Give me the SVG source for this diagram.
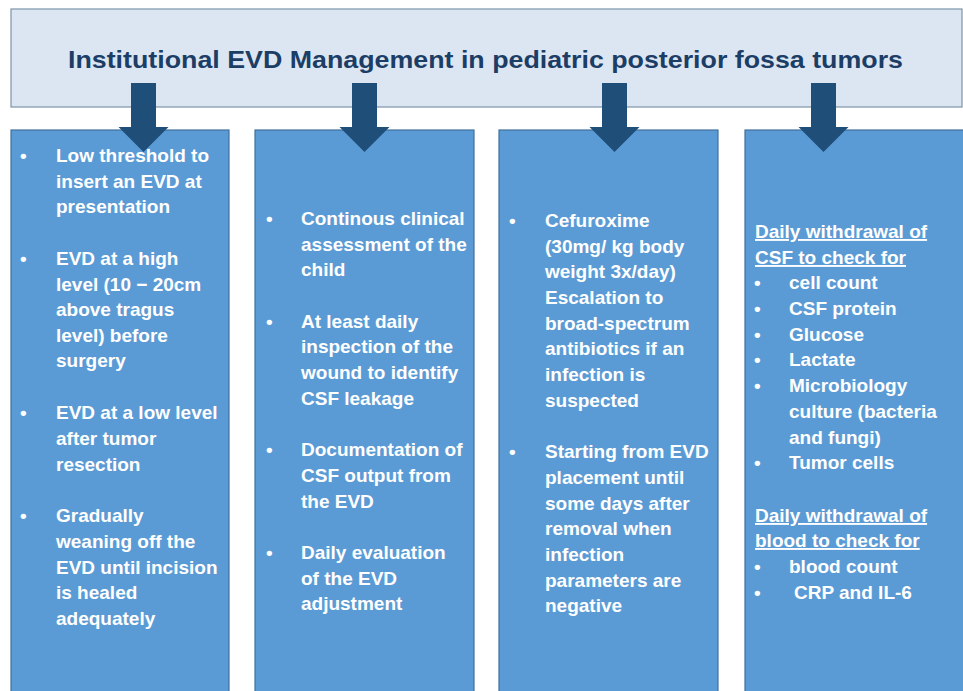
<svg xmlns="http://www.w3.org/2000/svg" width="963" height="691" viewBox="0 0 963 691">
  <style>
    .header { fill: #dce6f2; stroke: #7d93ab; stroke-width: 1.2; }
    .col { fill: #5b9bd5; stroke: #41719c; stroke-width: 1.2; }
    .title { font-family: "Liberation Sans", Arial, sans-serif; font-weight: bold; font-size: 24px; fill: #1b3d66; }
    .t { font-family: "Liberation Sans", Arial, sans-serif; font-weight: bold; font-size: 19px; fill: #ffffff; }
    .u { text-decoration: underline; }
    .arrow { fill: #1f4e79; }
  </style>
  <rect width="963" height="691" fill="#ffffff"/>

  <g id="header">
    <rect class="header" x="11" y="9" width="951" height="98"/>
    <text class="title" x="68" y="68" textLength="835" lengthAdjust="spacingAndGlyphs">Institutional EVD Management in pediatric posterior fossa tumors</text>
  </g>

  <g id="col-drainage">
    <rect class="col" x="11" y="130" width="218" height="570"/>
    <g class="t">
      <text x="20" y="162">•</text>
      <text x="56" y="162">Low threshold to</text>
      <text x="56" y="188">insert an EVD at</text>
      <text x="56" y="213">presentation</text>
      <text x="20" y="265">•</text>
      <text x="56" y="265">EVD at a high</text>
      <text x="56" y="291">level (10 − 20cm</text>
      <text x="56" y="316">above tragus</text>
      <text x="56" y="342">level) before</text>
      <text x="56" y="367">surgery</text>
      <text x="20" y="419">•</text>
      <text x="56" y="419">EVD at a low level</text>
      <text x="56" y="445">after tumor</text>
      <text x="56" y="471">resection</text>
      <text x="20" y="522">•</text>
      <text x="56" y="522">Gradually</text>
      <text x="56" y="548">weaning off the</text>
      <text x="56" y="574">EVD until incision</text>
      <text x="56" y="599">is healed</text>
      <text x="56" y="625">adequately</text>
    </g>
  </g>

  <g id="col-monitoring">
    <rect class="col" x="255" y="130" width="219" height="570"/>
    <g class="t">
      <text x="266" y="225">•</text>
      <text x="301" y="225">Continous clinical</text>
      <text x="301" y="251">assessment of the</text>
      <text x="301" y="276">child</text>
      <text x="266" y="328">•</text>
      <text x="301" y="328">At least daily</text>
      <text x="301" y="353">inspection of the</text>
      <text x="301" y="379">wound to identify</text>
      <text x="301" y="405">CSF leakage</text>
      <text x="266" y="456">•</text>
      <text x="301" y="456">Documentation of</text>
      <text x="301" y="482">CSF output from</text>
      <text x="301" y="508">the EVD</text>
      <text x="266" y="559">•</text>
      <text x="301" y="559">Daily evaluation</text>
      <text x="301" y="585">of the EVD</text>
      <text x="301" y="610">adjustment</text>
    </g>
  </g>

  <g id="col-antibiotics">
    <rect class="col" x="499" y="130" width="219" height="570"/>
    <g class="t">
      <text x="509" y="227">•</text>
      <text x="545" y="227">Cefuroxime</text>
      <text x="545" y="253">(30mg/ kg body</text>
      <text x="545" y="278">weight 3x/day)</text>
      <text x="545" y="304">Escalation to</text>
      <text x="545" y="330">broad-spectrum</text>
      <text x="545" y="355">antibiotics if an</text>
      <text x="545" y="381">infection is</text>
      <text x="545" y="407">suspected</text>
      <text x="509" y="458">•</text>
      <text x="545" y="458">Starting from EVD</text>
      <text x="545" y="484">placement until</text>
      <text x="545" y="510">some days after</text>
      <text x="545" y="535">removal when</text>
      <text x="545" y="561">infection</text>
      <text x="545" y="587">parameters are</text>
      <text x="545" y="612">negative</text>
    </g>
  </g>

  <g id="col-labs">
    <rect class="col" x="745" y="130" width="225" height="570"/>
    <g class="t">
      <text class="u" x="755" y="238">Daily withdrawal of</text>
      <text class="u" x="755" y="264">CSF to check for</text>
      <text x="754" y="289">•</text>
      <text x="789" y="289">cell count</text>
      <text x="754" y="315">•</text>
      <text x="789" y="315">CSF protein</text>
      <text x="754" y="341">•</text>
      <text x="789" y="341">Glucose</text>
      <text x="754" y="366">•</text>
      <text x="789" y="366">Lactate</text>
      <text x="754" y="392">•</text>
      <text x="789" y="392">Microbiology</text>
      <text x="789" y="418">culture (bacteria</text>
      <text x="789" y="444">and fungi)</text>
      <text x="754" y="469">•</text>
      <text x="789" y="469">Tumor cells</text>
      <text class="u" x="755" y="522">Daily withdrawal of</text>
      <text class="u" x="755" y="547">blood to check for</text>
      <text x="754" y="573">•</text>
      <text x="789" y="573">blood count</text>
      <text x="754" y="599">•</text>
      <text x="794" y="599">CRP and IL-6</text>
    </g>
  </g>

  <!-- block arrows from the header down into each column -->
  <g id="connectors">
    <polygon class="arrow" points="131,83 156,83 156,127 168.5,127 143.5,152 118.5,127 131,127"/>
    <polygon class="arrow" points="352,83 377,83 377,127 389.5,127 364.5,152 339.5,127 352,127"/>
    <polygon class="arrow" points="602,83 627,83 627,127 639.5,127 614.5,152 589.5,127 602,127"/>
    <polygon class="arrow" points="811,83 836,83 836,127 848.5,127 823.5,152 798.5,127 811,127"/>
  </g>
</svg>
